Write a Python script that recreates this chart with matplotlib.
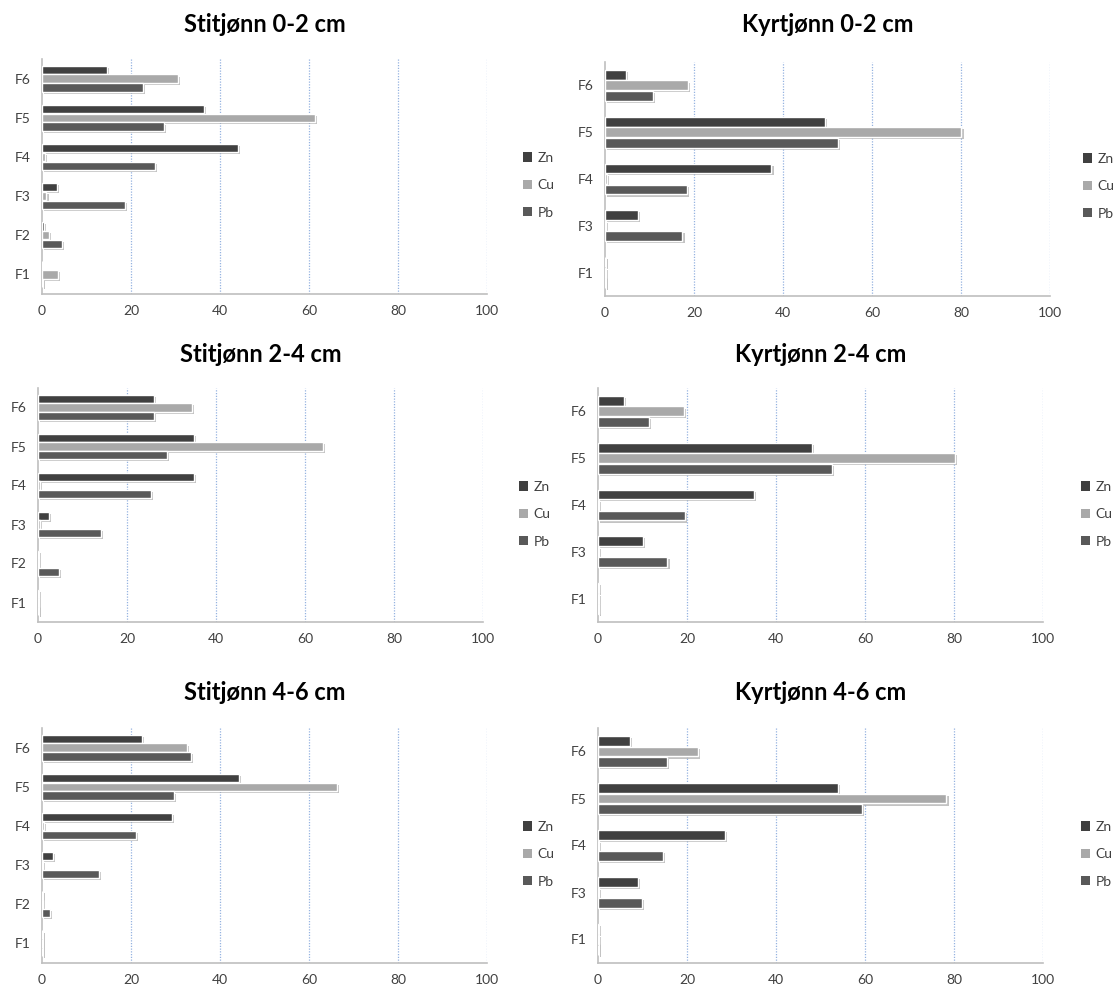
import numpy as np
import matplotlib
matplotlib.use("Agg")
import matplotlib.pyplot as plt
import matplotlib.patheffects as pe
from matplotlib.patches import Patch

plt.rcParams['font.family'] = ['Lato', 'DejaVu Sans']

metals = ['Zn', 'Cu', 'Pb']
colors = {'Zn': '#404040', 'Cu': '#a9a9a9', 'Pb': '#595959'}

# fractions, bottom to top
stit_fr = ['F1', 'F2', 'F3', 'F4', 'F5', 'F6']
kyrt_fr = ['F1', 'F3', 'F4', 'F5', 'F6']

# Stitjønn 0-2 cm
st02_zn = [0.0, 0.5, 3.4, 44.0, 36.3, 14.5]
st02_cu = [3.5, 1.6, 1.0, 0.7, 61.4, 30.5]
st02_pb = [0.1, 4.4, 18.7, 25.4, 27.5, 22.7]
# Kyrtjønn 0-2 cm
ky02_zn = [0.1, 7.5, 37.4, 49.4, 4.7]
ky02_cu = [0.3, 0.2, 0.4, 80.1, 18.7]
ky02_pb = [0.1, 17.4, 18.4, 52.3, 10.7]
# Stitjønn 2-4 cm
st24_zn = [0.2, 0.3, 2.4, 35.0, 35.1, 26.0]
st24_cu = [0.2, 0.2, 0.4, 0.4, 64.0, 34.6]
st24_pb = [0.1, 4.7, 14.2, 25.3, 28.9, 26.0]
# Kyrtjønn 2-4 cm
ky24_zn = [0.2, 10.2, 35.0, 48.0, 5.8]
ky24_cu = [0.2, 0.3, 0.3, 80.2, 19.4]
ky24_pb = [0.2, 15.6, 19.6, 52.5, 11.4]
# Stitjønn 4-6 cm
st46_zn = [0.1, 0.1, 2.5, 29.2, 44.3, 22.5]
st46_cu = [0.1, 0.2, 0.3, 0.4, 66.2, 32.6]
st46_pb = [0.1, 1.7, 12.9, 21.1, 29.6, 33.5]
# Kyrtjønn 4-6 cm
ky46_zn = [0.3, 8.9, 28.5, 54.0, 7.1]
ky46_cu = [0.3, 0.2, 0.3, 78.3, 22.5]
ky46_pb = [0.1, 9.9, 14.5, 59.4, 15.5]

panels = [
    ('Stitjønn 0-2 cm', stit_fr, st02_zn, st02_cu, st02_pb),
    ('Kyrtjønn 0-2 cm', kyrt_fr, ky02_zn, ky02_cu, ky02_pb),
    ('Stitjønn 2-4 cm', stit_fr, st24_zn, st24_cu, st24_pb),
    ('Kyrtjønn 2-4 cm', kyrt_fr, ky24_zn, ky24_cu, ky24_pb),
    ('Stitjønn 4-6 cm', stit_fr, st46_zn, st46_cu, st46_pb),
    ('Kyrtjønn 4-6 cm', kyrt_fr, ky46_zn, ky46_cu, ky46_pb),
]

W, H = 1120, 994
fig = plt.figure(figsize=(W / 100, H / 100), dpi=100)

# pixel boxes: (x0, x1, ytop, ybottom), title y, legend first row y, legend x gap
boxes = [
    (42, 487, 59, 294, 25, 159, 36),
    (605, 1050, 62, 296, 25, 160, 33),
    (38, 483, 388, 622, 354, 488, 36),
    (598, 1043, 388, 622, 354, 488, 38),
    (42, 487, 728, 963, 693, 828, 36),
    (598, 1043, 728, 963, 693, 828, 38),
]

shadow = [pe.SimplePatchShadow(offset=(1.5, -1.5), shadow_rgbFace='#888888', alpha=0.5),
          pe.Normal()]

for (title, fr, zn, cu, pb), (x0, x1, yt, yb, ty, ly, lg) in zip(panels, boxes):
    ax = fig.add_axes([x0 / W, 1 - yb / H, (x1 - x0) / W, (yb - yt) / H])
    y = np.arange(len(fr))
    for vals, off, m in [(zn, 0.225, 'Zn'), (cu, 0.0, 'Cu'), (pb, -0.225, 'Pb')]:
        bars = ax.barh(y + off, vals, height=0.21, color=colors[m],
                       edgecolor='white', linewidth=1.0, zorder=3)
        for b in bars:
            b.set_path_effects(shadow)
    ax.set_xlim(0, 100)
    ax.set_ylim(-0.5, len(fr) - 0.5)
    ax.set_xticks(range(0, 101, 20))
    ax.set_yticks(y)
    ax.set_yticklabels(fr)
    ax.tick_params(length=0, labelsize=10, colors='#404040', pad=8)
    for xv in range(20, 101, 20):
        ax.axvline(xv, color='#95b3e0', lw=0.9, ls=(0, (1, 1.2)), zorder=1)
    for s in ['top', 'right']:
        ax.spines[s].set_visible(False)
    for s in ['left', 'bottom']:
        ax.spines[s].set_color('#bfbfbf')
        ax.spines[s].set_linewidth(1.2)
    fig.text((x0 + x1) / 2 / W, 1 - ty / H, title, ha='center', va='center',
             fontsize=17, fontweight='bold', color='black')
    handles = [Patch(facecolor=colors[m], edgecolor='none', label=m) for m in metals]
    fig.legend(handles=handles, loc='upper left', frameon=False,
               bbox_to_anchor=((x1 + lg) / W, 1 - (ly - 7) / H),
               fontsize=10, labelcolor='#404040', handlelength=0.65, handleheight=0.65,
               handletextpad=0.4, labelspacing=1.1, borderaxespad=0, borderpad=0)

fig.savefig('out.png', dpi=100, facecolor='white')
